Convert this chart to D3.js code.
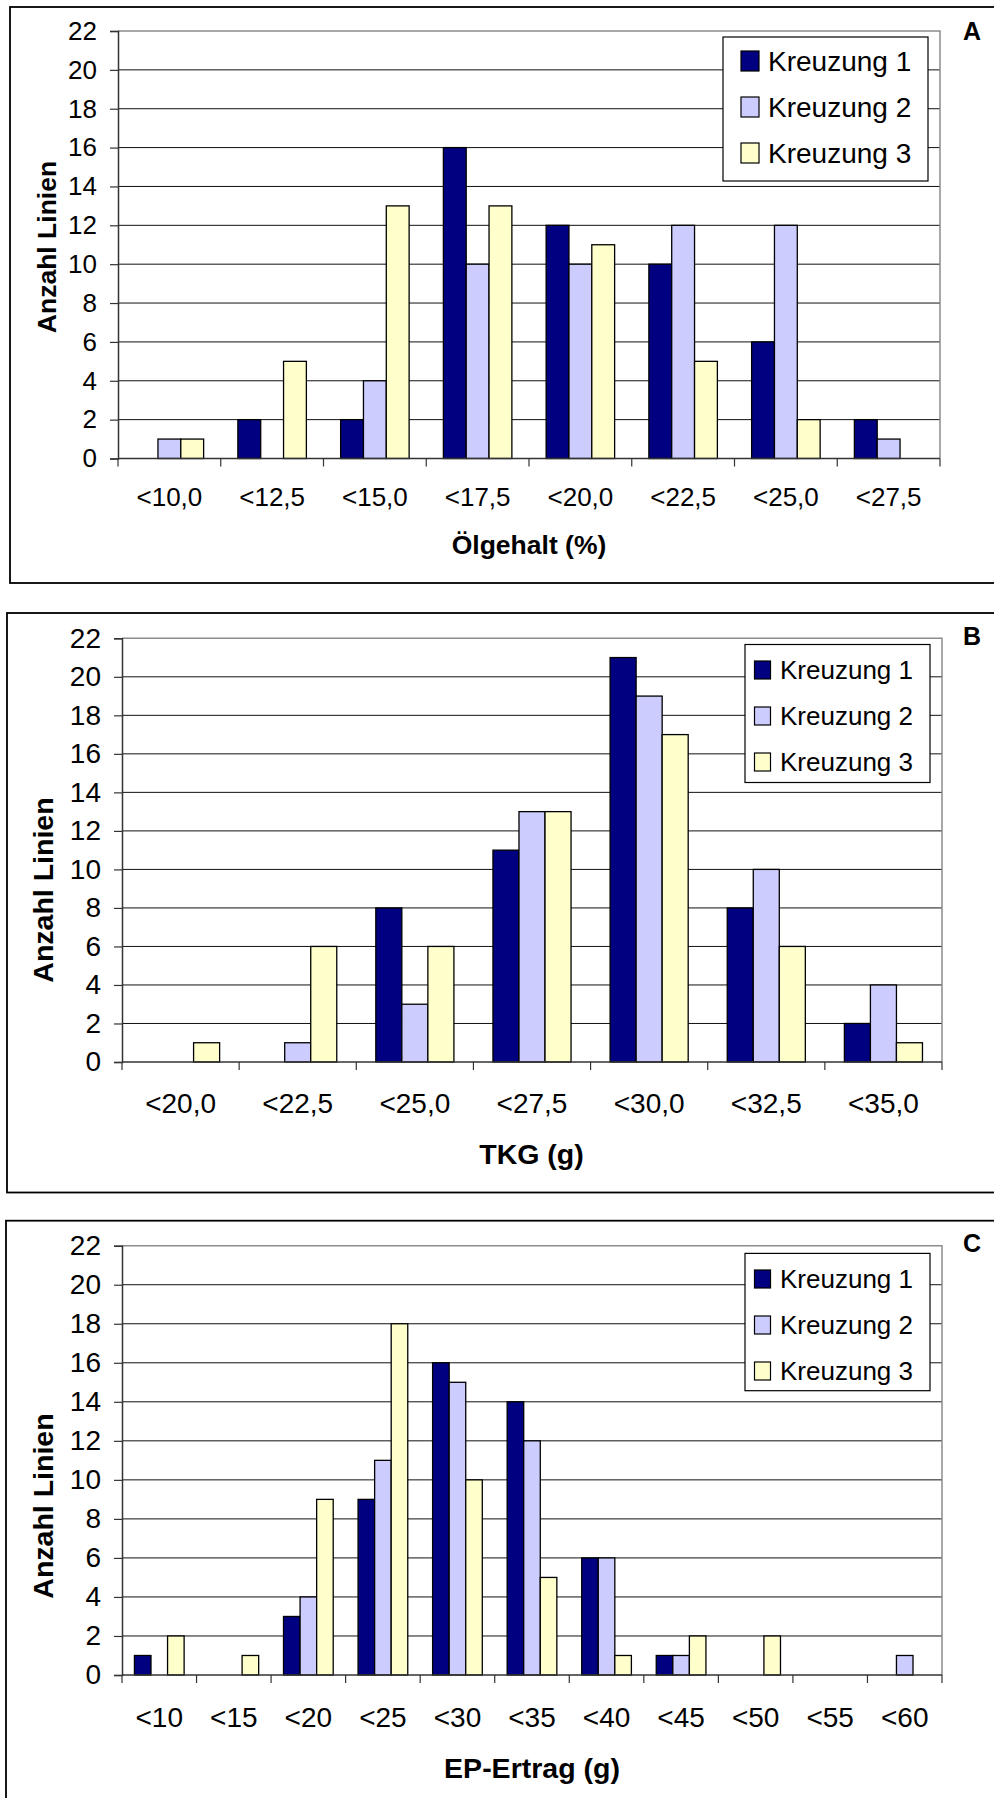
<!DOCTYPE html>
<html>
<head>
<meta charset="utf-8">
<script src="https://cdn.jsdelivr.net/npm/d3@7"></script>
<style>
  html, body { margin: 0; padding: 0; background: #fff; }
  svg { display: block; }
  text { font-family: "Liberation Sans", Arial, sans-serif; fill: #000; }
</style>
</head>
<body>
<svg id="chart" width="994" height="1798"></svg>
<script>
// ---------------- DATA ----------------
const seriesNames = ["Kreuzung 1", "Kreuzung 2", "Kreuzung 3"];
const yTicks = [0, 2, 4, 6, 8, 10, 12, 14, 16, 18, 20, 22];

// Panel A: Ölgehalt (%)
const catsA = ["<10,0", "<12,5", "<15,0", "<17,5", "<20,0", "<22,5", "<25,0", "<27,5"];
const kreuzung1A = [0, 2, 2, 16, 12, 10, 6, 2];
const kreuzung2A = [1, 0, 4, 10, 10, 12, 12, 1];
const kreuzung3A = [1, 5, 13, 13, 11, 5, 2, 0];

// Panel B: TKG (g)
const catsB = ["<20,0", "<22,5", "<25,0", "<27,5", "<30,0", "<32,5", "<35,0"];
const kreuzung1B = [0, 0, 8, 11, 21, 8, 2];
const kreuzung2B = [0, 1, 3, 13, 19, 10, 4];
const kreuzung3B = [1, 6, 6, 13, 17, 6, 1];

// Panel C: EP-Ertrag (g)
const catsC = ["<10", "<15", "<20", "<25", "<30", "<35", "<40", "<45", "<50", "<55", "<60"];
const kreuzung1C = [1, 0, 3, 9, 16, 14, 6, 1, 0, 0, 0];
const kreuzung2C = [0, 0, 4, 11, 15, 12, 6, 1, 0, 0, 1];
const kreuzung3C = [2, 1, 9, 18, 10, 5, 1, 2, 2, 0, 0];

const xTitles = ["Ölgehalt (%)", "TKG (g)", "EP-Ertrag (g)"];
const panelLetters = ["A", "B", "C"];
const yTitle = "Anzahl Linien";

// ---------------- STYLE / LAYOUT ----------------
const colors = ["#000080", "#CCCCFF", "#FFFFCC"];

const layouts = [
  { frame: {x: 10, y: 7, w: 1000, h: 576},
    plot: {l: 118, r: 940, t: 31, b: 458.5},
    tickFont: 26, titleFont: 26.5, legendFont: 28,
    yTitleX: 46.5, yTitleY: 247, xTitleX: 529, xTitleY: 554, catY: 506,
    legend: {x: 723, y: 37, w: 205, h: 144, sqX: 741, sqW: 18, sqH: 20, textX: 768, rows: [61, 107, 153]},
    letter: {x: 963, y: 40} },
  { frame: {x: 7, y: 613, w: 1000, h: 579.5},
    plot: {l: 122, r: 942, t: 638.3, b: 1062},
    tickFont: 28, titleFont: 28.5, legendFont: 26,
    yTitleX: 43, yTitleY: 890, xTitleX: 531.5, xTitleY: 1164, catY: 1113,
    legend: {x: 745, y: 644.5, w: 185, h: 138, sqX: 754.5, sqW: 16, sqH: 18, textX: 780, rows: [670, 716, 762]},
    letter: {x: 963, y: 645} },
  { frame: {x: 6, y: 1220.7, w: 1000, h: 700},
    plot: {l: 122, r: 942, t: 1245.7, b: 1675},
    tickFont: 28, titleFont: 28.5, legendFont: 26,
    yTitleX: 43, yTitleY: 1506, xTitleX: 532, xTitleY: 1778, catY: 1727,
    legend: {x: 745, y: 1253.4, w: 185, h: 137.3, sqX: 754.5, sqW: 16, sqH: 18, textX: 780, rows: [1279, 1325, 1371]},
    letter: {x: 963, y: 1252} }
];

const panels = [
  { cats: catsA, series: [kreuzung1A, kreuzung2A, kreuzung3A] },
  { cats: catsB, series: [kreuzung1B, kreuzung2B, kreuzung3B] },
  { cats: catsC, series: [kreuzung1C, kreuzung2C, kreuzung3C] }
];

const svg = d3.select("#chart");

panels.forEach((p, pi) => {
  const L = layouts[pi];
  const g = svg.append("g");

  // outer frame
  g.append("rect")
    .attr("x", L.frame.x).attr("y", L.frame.y)
    .attr("width", L.frame.w).attr("height", L.frame.h)
    .attr("fill", "none").attr("stroke", "#000").attr("stroke-width", 1.8);

  const x = d3.scaleBand().domain(p.cats).range([L.plot.l, L.plot.r]).padding(0);
  const xs = d3.scaleBand().domain(d3.range(p.series.length))
    .range([0, x.bandwidth()]).paddingInner(0).paddingOuter(0.75);
  const y = d3.scaleLinear().domain([0, 22]).range([L.plot.b, L.plot.t]);

  // gridlines
  g.append("g").selectAll("line")
    .data(yTicks.filter(t => t > 0 && t < 22))
    .join("line")
    .attr("x1", L.plot.l).attr("x2", L.plot.r)
    .attr("y1", d => y(d)).attr("y2", d => y(d))
    .attr("stroke", "#111").attr("stroke-width", 1);

  // plot area border (top/right) in gray
  g.append("path")
    .attr("d", `M${L.plot.l},${y(22)}H${L.plot.r}V${y(0)}`)
    .attr("fill", "none").attr("stroke", "#8c8c8c").attr("stroke-width", 1.5);

  // bars
  const rows = [];
  p.series.forEach((vals, si) => {
    vals.forEach((v, ci) => { if (v > 0) rows.push({si, cat: p.cats[ci], v}); });
  });
  g.append("g").selectAll("rect")
    .data(rows)
    .join("rect")
    .attr("x", d => x(d.cat) + xs(d.si))
    .attr("width", xs.bandwidth())
    .attr("y", d => y(d.v))
    .attr("height", d => y(0) - y(d.v))
    .attr("fill", d => colors[d.si])
    .attr("stroke", "#000").attr("stroke-width", 1.3);

  // y axis
  const yAxis = d3.axisLeft(y).tickValues(yTicks).tickSize(8).tickPadding(13).tickFormat(d3.format("d"));
  const ya = g.append("g").attr("transform", `translate(${L.plot.l},0)`).call(yAxis);
  ya.select(".domain").attr("stroke", "#333").attr("stroke-width", 1.5);
  ya.selectAll(".tick line").attr("stroke", "#333").attr("stroke-width", 1.2);
  ya.selectAll(".tick text")
    .attr("font-size", L.tickFont)
    .attr("font-family", "'Liberation Sans', Arial, sans-serif")
    .attr("fill", "#000");

  // x axis: labels centred under categories, ticks at category boundaries
  const xAxis = d3.axisBottom(x).tickSize(0).tickPadding(0);
  const xa = g.append("g").attr("transform", `translate(0,${L.plot.b})`).call(xAxis);
  xa.select(".domain").remove();
  xa.selectAll(".tick text")
    .attr("y", L.catY - L.plot.b).attr("dy", null)
    .attr("font-size", L.tickFont)
    .attr("font-family", "'Liberation Sans', Arial, sans-serif")
    .attr("fill", "#000");
  g.append("line")
    .attr("x1", L.plot.l).attr("x2", L.plot.r)
    .attr("y1", L.plot.b).attr("y2", L.plot.b)
    .attr("stroke", "#333").attr("stroke-width", 1.5);
  const bounds = p.cats.map(c => x(c)).concat([x.range()[1]]);
  g.append("g").selectAll("line")
    .data(bounds)
    .join("line")
    .attr("x1", d => d).attr("x2", d => d)
    .attr("y1", L.plot.b).attr("y2", L.plot.b + 8)
    .attr("stroke", "#333").attr("stroke-width", 1.2);

  // axis titles
  g.append("text")
    .attr("transform", `translate(${L.yTitleX},${L.yTitleY}) rotate(-90)`)
    .attr("text-anchor", "middle").attr("dominant-baseline", "central")
    .attr("font-weight", "bold").attr("font-size", L.titleFont)
    .text(yTitle);
  g.append("text")
    .attr("x", L.xTitleX).attr("y", L.xTitleY)
    .attr("text-anchor", "middle")
    .attr("font-weight", "bold").attr("font-size", L.titleFont)
    .text(xTitles[pi]);

  // legend
  const lg = g.append("g");
  lg.append("rect")
    .attr("x", L.legend.x).attr("y", L.legend.y)
    .attr("width", L.legend.w).attr("height", L.legend.h)
    .attr("fill", "#fff").attr("stroke", "#000").attr("stroke-width", 1.2);
  seriesNames.forEach((name, si) => {
    const cy = L.legend.rows[si];
    lg.append("rect")
      .attr("x", L.legend.sqX).attr("y", cy - L.legend.sqH / 2)
      .attr("width", L.legend.sqW).attr("height", L.legend.sqH)
      .attr("fill", colors[si]).attr("stroke", "#000").attr("stroke-width", 1.2);
    lg.append("text")
      .attr("x", L.legend.textX).attr("y", cy)
      .attr("dominant-baseline", "central")
      .attr("font-size", L.legendFont)
      .text(name);
  });

  // panel letter
  g.append("text")
    .attr("x", L.letter.x).attr("y", L.letter.y)
    .attr("font-weight", "bold").attr("font-size", 25)
    .text(panelLetters[pi]);
});
</script>
</body>
</html>
